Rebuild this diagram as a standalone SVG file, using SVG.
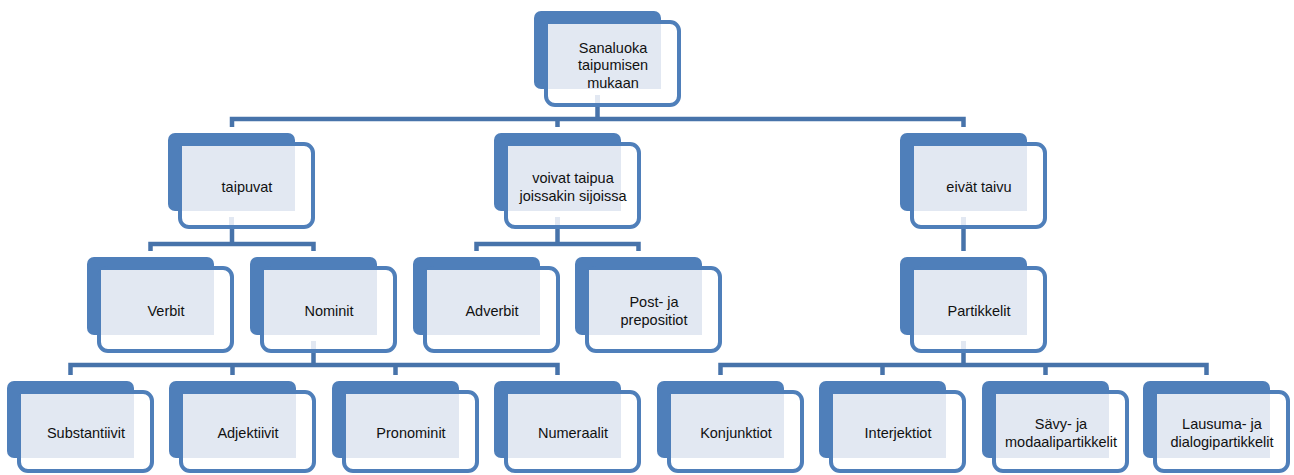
<svg xmlns="http://www.w3.org/2000/svg" width="1294" height="475" viewBox="0 0 1294 475">
<style>
.back{fill:#4f7fba}
.front{fill:#ffffff;stroke:#4f7fba;stroke-width:4}
.pat{fill:#e2e8f2}
.lbl{font-family:"Liberation Sans",Arial,sans-serif;font-size:14.5px;fill:#111111;text-anchor:middle}
.conn{fill:none;stroke:#4773aa;stroke-width:4.5;stroke-linejoin:miter}
</style>
<rect width="1294" height="475" fill="#ffffff"/>
<g id="connectors" class="conn">
<path d="M597.5 107V119M232 127V119H963.5V127M557.5 119V127"/>
<path d="M232 229V244M150.5 251V244H313.5V251"/>
<path d="M557.5 229V244M476.5 251V244H638.5V251"/>
<path d="M963.5 229V251"/>
<path d="M313.5 353V365M70.5 375V365H557.5V375M232.5 365V375M395.5 365V375"/>
<path d="M963.5 353V365M720.5 375V365H1206.5V375M882.5 365V375M1045.5 365V375"/>
</g>
<g id="n-sanaluoka" transform="translate(534 11)">
<rect class="back" width="127" height="78" rx="7"/>
<rect class="front" x="12" y="11" width="133" height="83" rx="9"/>
<rect class="pat" x="14" y="13" width="113" height="65"/>
<rect class="pat" x="61" y="84" width="5" height="8"/>
<text class="lbl" x="79" y="41.5">Sanaluoka</text>
<text class="lbl" x="79" y="59">taipumisen</text>
<text class="lbl" x="79" y="76.5">mukaan</text>
</g>
<g id="n-taipuvat" transform="translate(168 133)">
<rect class="back" width="127" height="78" rx="7"/>
<rect class="front" x="12" y="11" width="133" height="83" rx="9"/>
<rect class="pat" x="14" y="13" width="113" height="65"/>
<rect class="pat" x="61" y="84" width="5" height="8"/>
<text class="lbl" x="79" y="59">taipuvat</text>
</g>
<g id="n-voivat" transform="translate(494 133)">
<rect class="back" width="127" height="78" rx="7"/>
<rect class="front" x="12" y="11" width="133" height="83" rx="9"/>
<rect class="pat" x="14" y="13" width="113" height="65"/>
<rect class="pat" x="61" y="84" width="5" height="8"/>
<text class="lbl" x="79" y="50.25">voivat taipua</text>
<text class="lbl" x="79" y="67.75">joissakin sijoissa</text>
</g>
<g id="n-eivat" transform="translate(900 133)">
<rect class="back" width="127" height="78" rx="7"/>
<rect class="front" x="12" y="11" width="133" height="83" rx="9"/>
<rect class="pat" x="14" y="13" width="113" height="65"/>
<rect class="pat" x="61" y="84" width="5" height="8"/>
<text class="lbl" x="79" y="59">eivät taivu</text>
</g>
<g id="n-verbit" transform="translate(87 257)">
<rect class="back" width="127" height="78" rx="7"/>
<rect class="front" x="12" y="11" width="133" height="83" rx="9"/>
<rect class="pat" x="14" y="13" width="113" height="65"/>
<text class="lbl" x="79" y="59">Verbit</text>
</g>
<g id="n-nominit" transform="translate(250 257)">
<rect class="back" width="127" height="78" rx="7"/>
<rect class="front" x="12" y="11" width="133" height="83" rx="9"/>
<rect class="pat" x="14" y="13" width="113" height="65"/>
<rect class="pat" x="61" y="84" width="5" height="8"/>
<text class="lbl" x="79" y="59">Nominit</text>
</g>
<g id="n-adverbit" transform="translate(413 257)">
<rect class="back" width="127" height="78" rx="7"/>
<rect class="front" x="12" y="11" width="133" height="83" rx="9"/>
<rect class="pat" x="14" y="13" width="113" height="65"/>
<text class="lbl" x="79" y="59">Adverbit</text>
</g>
<g id="n-post" transform="translate(575 257)">
<rect class="back" width="127" height="78" rx="7"/>
<rect class="front" x="12" y="11" width="133" height="83" rx="9"/>
<rect class="pat" x="14" y="13" width="113" height="65"/>
<text class="lbl" x="79" y="50.25">Post- ja</text>
<text class="lbl" x="79" y="67.75">prepositiot</text>
</g>
<g id="n-partikkelit" transform="translate(900 257)">
<rect class="back" width="127" height="78" rx="7"/>
<rect class="front" x="12" y="11" width="133" height="83" rx="9"/>
<rect class="pat" x="14" y="13" width="113" height="65"/>
<rect class="pat" x="61" y="84" width="5" height="8"/>
<text class="lbl" x="79" y="59">Partikkelit</text>
</g>
<g id="n-substantiivit" transform="translate(7 381)">
<rect class="back" width="127" height="77" rx="7"/>
<rect class="front" x="12" y="11" width="133" height="79" rx="9"/>
<rect class="pat" x="14" y="13" width="113" height="64"/>
<text class="lbl" x="79" y="57">Substantiivit</text>
</g>
<g id="n-adjektiivit" transform="translate(169 381)">
<rect class="back" width="127" height="77" rx="7"/>
<rect class="front" x="12" y="11" width="133" height="79" rx="9"/>
<rect class="pat" x="14" y="13" width="113" height="64"/>
<text class="lbl" x="79" y="57">Adjektiivit</text>
</g>
<g id="n-pronominit" transform="translate(332 381)">
<rect class="back" width="127" height="77" rx="7"/>
<rect class="front" x="12" y="11" width="133" height="79" rx="9"/>
<rect class="pat" x="14" y="13" width="113" height="64"/>
<text class="lbl" x="79" y="57">Pronominit</text>
</g>
<g id="n-numeraalit" transform="translate(494 381)">
<rect class="back" width="127" height="77" rx="7"/>
<rect class="front" x="12" y="11" width="133" height="79" rx="9"/>
<rect class="pat" x="14" y="13" width="113" height="64"/>
<text class="lbl" x="79" y="57">Numeraalit</text>
</g>
<g id="n-konjunktiot" transform="translate(657 381)">
<rect class="back" width="127" height="77" rx="7"/>
<rect class="front" x="12" y="11" width="133" height="79" rx="9"/>
<rect class="pat" x="14" y="13" width="113" height="64"/>
<text class="lbl" x="79" y="57">Konjunktiot</text>
</g>
<g id="n-interjektiot" transform="translate(819 381)">
<rect class="back" width="127" height="77" rx="7"/>
<rect class="front" x="12" y="11" width="133" height="79" rx="9"/>
<rect class="pat" x="14" y="13" width="113" height="64"/>
<text class="lbl" x="79" y="57">Interjektiot</text>
</g>
<g id="n-savy" transform="translate(982 381)">
<rect class="back" width="127" height="77" rx="7"/>
<rect class="front" x="12" y="11" width="133" height="79" rx="9"/>
<rect class="pat" x="14" y="13" width="113" height="64"/>
<text class="lbl" x="79" y="48.25">Sävy- ja</text>
<text class="lbl" x="79" y="65.75">modaalipartikkelit</text>
</g>
<g id="n-lausuma" transform="translate(1143 381)">
<rect class="back" width="127" height="77" rx="7"/>
<rect class="front" x="12" y="11" width="133" height="79" rx="9"/>
<rect class="pat" x="14" y="13" width="113" height="64"/>
<text class="lbl" x="79" y="48.25">Lausuma- ja</text>
<text class="lbl" x="79" y="65.75">dialogipartikkelit</text>
</g>
</svg>
